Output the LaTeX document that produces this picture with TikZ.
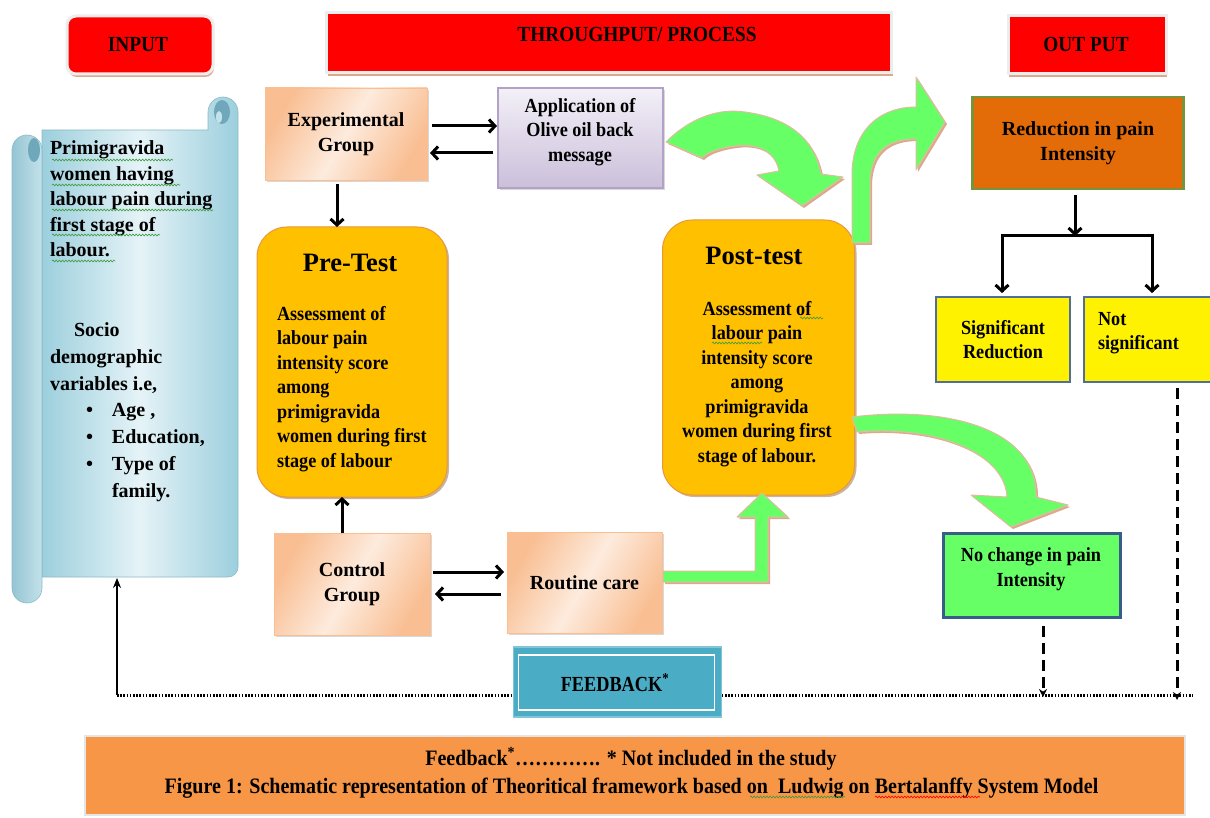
\documentclass[tikz,border=0pt]{standalone}
\usepackage{fontspec}
\setmainfont{Liberation Serif}
\newfontfamily\condser[FakeStretch=0.91]{Liberation Serif}
\newfontfamily\condhdr[FakeStretch=0.9]{Liberation Serif}
\newfontfamily\condfb[FakeStretch=0.85]{Liberation Serif}
\usetikzlibrary{arrows.meta,shadows,decorations.pathmorphing,calc}
\definecolor{scrA}{HTML}{9CCFDD}
\definecolor{scrB}{HTML}{E5F3F7}
\definecolor{scrD}{HTML}{6FA8BA}
\definecolor{peachD}{HTML}{F9BE92}
\definecolor{peachL}{HTML}{FDEBDD}
\definecolor{lavL}{HTML}{F3F0F8}
\definecolor{lavD}{HTML}{CBBFDA}
\definecolor{lavB}{HTML}{B3A2C7}
\definecolor{gold}{HTML}{FFC000}
\definecolor{goldB}{HTML}{E8983A}
\definecolor{redbox}{HTML}{E36C09}
\definecolor{redboxB}{HTML}{77933C}
\definecolor{yboxB}{HTML}{4F6F9A}
\definecolor{gbox}{HTML}{66FF66}
\definecolor{gboxB}{HTML}{385D8A}
\definecolor{fbC}{HTML}{4BACC6}
\definecolor{capC}{HTML}{F79646}
\definecolor{tan}{HTML}{DBAA8C}
\definecolor{wavyG}{HTML}{3C9C3C}
\newcommand\fA{\fontsize{20}{25.5}\selectfont\bfseries}
\newcommand\fS{\fontsize{20}{26.7}\selectfont\bfseries}
\newcommand\fB{\condser\fontsize{20}{24.5}\selectfont\bfseries}
\newcommand\fT{\fontsize{26.5}{30}\selectfont\bfseries}
\newcommand\fH{\condhdr\fontsize{21.5}{26}\selectfont\bfseries}
\newcommand\fF{\condfb\fontsize{21.5}{24}\selectfont\bfseries}
\newcommand\fC{\condser\fontsize{22}{28}\selectfont\bfseries}
\newcommand\bitem[1]{\hspace*{36pt}\makebox[26pt][l]{\textbullet}#1}
\begin{document}
\begin{tikzpicture}[x=1pt,y=-1pt,
  every node/.style={inner sep=0pt,outer sep=0pt},
  arr/.style={line width=3pt,-{Straight Barb[length=6pt,width=13pt]}},
  dasharr/.style={line width=3pt,dash pattern=on 11pt off 6pt,-{Stealth[length=8pt,width=8pt]}},
  fbline/.style={line width=3pt,dash pattern=on 1.6pt off 1.6pt},
  thinarr/.style={line width=1.1pt,-{Stealth[length=10pt,width=8pt]}},
  banner/.style={fill=red,draw=white!93!black,line width=3pt,
    drop shadow={shadow xshift=1pt,shadow yshift=-3pt,fill=tan,opacity=1}},
  hdr/.style={font=\fH},
  peach/.style={left color=peachD,right color=peachD,middle color=peachL,shading angle=60,
    draw=peachD,line width=0.8pt,drop shadow={shadow xshift=2pt,shadow yshift=-2pt,opacity=0.3}},
  lav/.style={top color=lavL,bottom color=lavD,draw=lavB,line width=1.2pt,
    drop shadow={shadow xshift=2pt,shadow yshift=-2pt,opacity=0.3}},
  testbox/.style={fill=gold,draw=goldB,line width=1pt,rounded corners=30pt,
    drop shadow={shadow xshift=2pt,shadow yshift=-2pt,fill=brown!70!black,opacity=0.45}},
  redb/.style={fill=redbox,draw=redboxB,line width=2.2pt},
  ybox/.style={fill=yellow,draw=yboxB,line width=2.4pt},
  gboxs/.style={fill=gbox,draw=gboxB,line width=2.6pt},
  garrow/.style={fill=gbox,draw=tan!80!white,line width=1pt,line join=round,
    drop shadow={shadow xshift=2pt,shadow yshift=-2pt,fill=tan,opacity=1}},
  wavy/.style={draw=wavyG,line width=0.6pt,decorate,decoration={snake,amplitude=0.9pt,segment length=3.2pt}},
  wavyr/.style={draw=red,line width=0.6pt,decorate,decoration={snake,amplitude=0.9pt,segment length=3.2pt}},
  scrollbody/.style={left color=scrA,right color=scrA,middle color=scrB,draw=scrA!90!black,line width=0.6pt},
  scrollroll/.style={left color=scrA!95!black,right color=scrA!60!white,draw=scrA!90!black,line width=0.6pt}
]
\clip (0,0) rectangle (1210,818);
\fill[white] (0,0) rectangle (1210,818);

% ---------- headers ----------
\node[banner,rounded corners=9pt,minimum width=146pt,minimum height=58pt] (inp) at (140,45) {};
\node[hdr,anchor=base] (inptxt) at (138,52) {INPUT};
\node[banner,minimum width=565pt,minimum height=60pt] (thr) at (609,43) {};
\node[hdr,anchor=base] (thrtxt) at (637,42) {THROUGHPUT/ PROCESS};
\node[banner,minimum width=158pt,minimum height=58pt] (outp) at (1087,45) {};
\node[hdr,anchor=base] (outtxt) at (1086,52) {OUT PUT};

% ---------- scroll ----------
\path[scrollbody] (42,130) -- (208,130) -- (208,112) arc (180:360:15) -- (238,567) arc (0:90:10) -- (42,577) -- cycle;
\path[scrollroll] (12,150) -- (12,588) arc (180:0:15) -- (42,150) arc (0:-180:15) -- cycle;
\fill[scrD] (34,150) ellipse (6 and 12);
\fill[scrD] (222,112) ellipse (8 and 12);
\fill[scrA!60!white] (219,117) ellipse (3 and 6);
\coordinate (scrollbot) at (117,578);
\node[anchor=north west,align=left,font=\fA] (s1) at (50,141) {Primigravida\\women having\\labour pain during\\first stage of\\labour.};
\node[anchor=north west,align=left,font=\fS] (s2) at (50,323) {\hspace*{24pt}Socio\\demographic\\variables i.e,\\\bitem{Age ,}\\\bitem{Education,}\\\bitem{Type of}\\\hspace*{62pt}family.};
\draw[wavy] (52,160) -- (173,160);
\draw[wavy] (52,185) -- (180,185);
\draw[wavy] (52,210) -- (213,210);
\draw[wavy] (52,235) -- (160,235);
\draw[wavy] (52,261) -- (115,261);

% ---------- process boxes ----------
\node[peach,minimum width=162pt,minimum height=92pt,align=center,font=\fA] (exp) at (346,134) {Experimental\\Group};
\node[lav,minimum width=165pt,minimum height=100pt] (app) at (580.5,138) {};
\node[align=center,font=\fB] (apptxt) at (580,132) {Application of\\Olive oil back\\message};

\node[testbox,minimum width=190pt,minimum height=270pt] (pre) at (352,362) {};
\node[font=\fT,anchor=base] (pretitle) at (350,272) {Pre-Test};
\node[anchor=north west,align=left,font=\fB] (prebody) at (277,306) {Assessment of\\labour pain\\intensity score\\among\\primigravida\\women during first\\stage of labour};

\node[testbox,minimum width=192pt,minimum height=275pt] (post) at (758.5,357.5) {};
\node[font=\fT,anchor=base] (posttitle) at (754,265) {Post-test};
\node[anchor=north,align=center,font=\fB] (postbody) at (757,301) {Assessment of\\labour pain\\intensity score\\among\\primigravida\\women during first\\stage of labour.};
\draw[wavy] (800,318) -- (823,318);
\draw[wavy] (712,343) -- (762,343);

\node[peach,minimum width=156pt,minimum height=102pt,align=center,font=\fA] (ctl) at (352,584) {Control\\Group};
\node[peach,minimum width=155pt,minimum height=101pt,font=\fA] (rc) at (584.5,582.5) {Routine care};

% ---------- output boxes ----------
\node[redb,minimum width=211pt,minimum height=92pt,align=center,font=\fA] (red) at (1078,143) {Reduction in pain\\Intensity};
\node[ybox,minimum width=134pt,minimum height=85pt,align=center,font=\fB] (sig) at (1003,339.5) {Significant\\Reduction};
\node[ybox,minimum width=130pt,minimum height=85pt] (ns) at (1149,339.5) {};
\node[anchor=north west,align=left,font=\fB] (nstxt) at (1098,312) {Not\\significant};
\node[gboxs,minimum width=177pt,minimum height=84pt] (nc) at (1032,575.5) {};
\node[align=center,font=\fB] (nctxt) at (1031,569) {No change in pain\\Intensity};

% ---------- green block arrows ----------
\path[garrow] (666,142) .. controls (690,118) and (718,108) .. (745,112) .. controls (790,118) and (815,140) .. (821,174)
  -- (843,177) -- (802,206) -- (757,175) -- (779,171) .. controls (775,150) and (755,143) .. (735,146)
  .. controls (720,148) and (708,152) .. (702,158) -- cycle;
\path[garrow] (852,243) -- (852,175) .. controls (852,130) and (880,107) .. (916,107) -- (916,77) -- (945,122)
  -- (916,170) -- (916,139) .. controls (890,139) and (870,150) .. (870,185) -- (870,243) -- cycle;
\path[garrow] (852,417) .. controls (950,405) and (1038,430) .. (1036,497) -- (1068,505) -- (1011,527) -- (971,495)
  -- (1007,497) .. controls (1005,455) and (940,425) .. (857,432) -- cycle;
\path[garrow] (663,571) -- (755,571) -- (755,517) -- (737,517) -- (762,493) -- (788,517) -- (768,517) -- (768,582) -- (663,582) -- cycle;

% ---------- black connectors ----------
\draw[arr] ($(exp.east)+(5,-8)$) -- ($(exp.east -| app.west)+(-1,-8)$);
\draw[arr] ($(exp.east -| app.west)+(-5,19)$) -- ($(exp.east)+(3,19)$);
\coordinate (e1) at ($(exp.south)+(-9,4)$);
\draw[arr] (e1) -- (e1 |- pre.north);
\coordinate (c1) at ($(ctl.north)+(-10,0)$);
\draw[arr] (c1) -- (c1 |- pre.south);
\draw[arr] ($(ctl.east)+(3,-12)$) -- ($(ctl.east -| rc.west)+(-3,-12)$);
\draw[arr] ($(ctl.east -| rc.west)+(-6,10)$) -- ($(ctl.east)+(5,10)$);
\coordinate (b) at (1075,236);
\draw[arr] ($(red.south)+(-3,6)$) -- (b);
\draw[line width=3pt] (b) -| ($(sig.north)+(-1,-5)$);
\draw[line width=3pt] (b) -| ($(ns.north)+(3,-5)$);
\draw[arr] ($(sig.north)+(-1,-40)$) -- ($(sig.north)+(-1,-4)$);
\draw[arr] ($(ns.north)+(3,-40)$) -- ($(ns.north)+(3,-4)$);

% ---------- feedback ----------
\coordinate (fbL) at (117,695);
\coordinate (fbR) at (1193,695);
\draw[fbline] (fbL) -- (fbR);
\draw[thinarr] (fbL) -- (scrollbot);
\coordinate (d1) at (1043,697);
\coordinate (d2) at (1177,700);
\draw[dasharr] ($(nc.south)+(11,8)$) -- (d1);
\draw[dasharr] ($(ns.south)+(28,6)$) -- (d2);
\node[fill=fbC,draw=fbC!70!white,line width=1.5pt,minimum width=208pt,minimum height=70pt] (fb) at (617.5,682) {};
\draw[white,line width=1.8pt] ($(fb.north west)+(5,8)$) rectangle ($(fb.south east)+(-7,-7)$);
\node[font=\fF,anchor=base] (fbtxt) at (615,691) {FEEDBACK\textsuperscript{*}};

% ---------- caption ----------
\node[fill=capC,draw=white!90!black,line width=2pt,minimum width=1100pt,minimum height=79pt,
  drop shadow={shadow xshift=1pt,shadow yshift=-1pt,opacity=0.25}] (cap) at (635,775.5) {};
\node[font=\fC,anchor=base] (cap1) at (631,765) {Feedback\textsuperscript{*}…………. * Not included in the study};
\node[font=\fC,anchor=base] (cap2) at (631.5,793) {Figure 1: Schematic representation of Theoritical framework based on\ \ Ludwig on Bertalanffy System Model};
\draw[wavy] (750,797) -- (845,797);
\draw[wavyr] (875,797) -- (980,797);
\end{tikzpicture}
\end{document}
